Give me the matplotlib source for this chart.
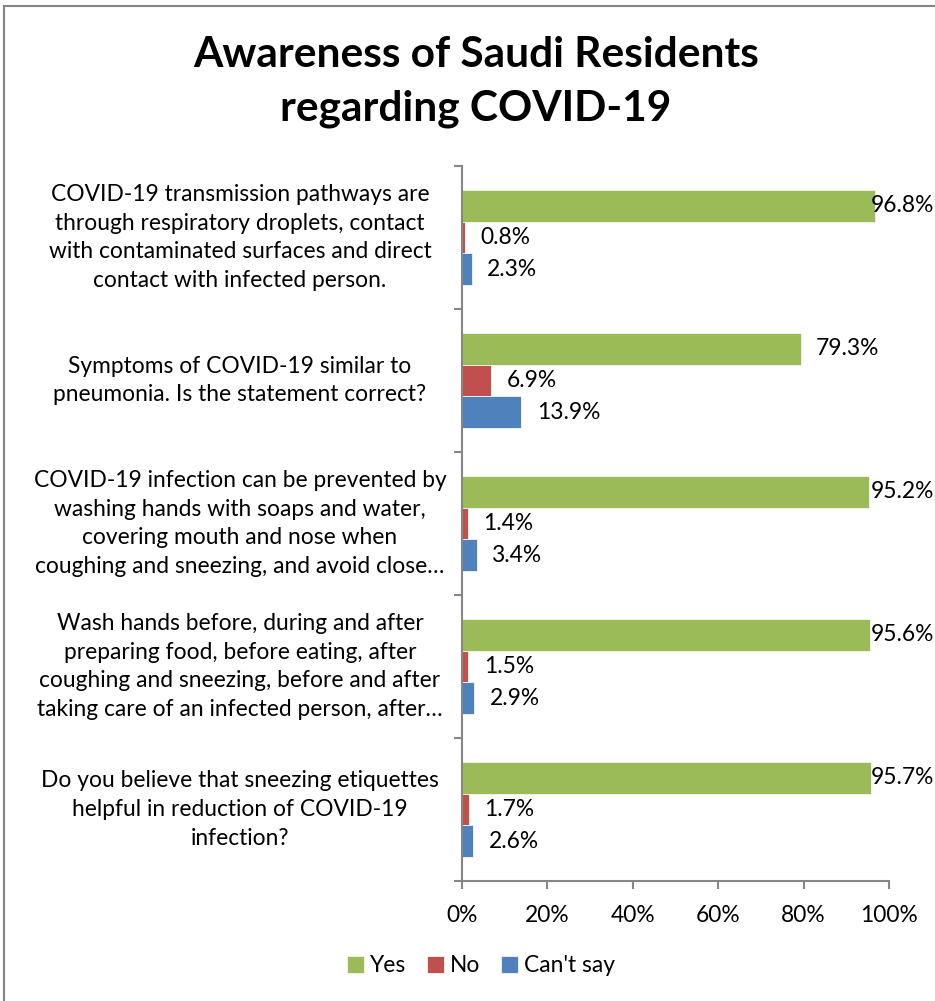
import matplotlib
matplotlib.use("Agg")
import matplotlib.pyplot as plt
import numpy as np
from matplotlib.ticker import PercentFormatter

categories = [
    "COVID-19 transmission pathways are\nthrough respiratory droplets, contact\nwith contaminated surfaces and direct\ncontact with infected person.",
    "Symptoms of COVID-19 similar to\npneumonia. Is the statement correct?",
    "COVID-19 infection can be prevented by\nwashing hands with soaps and water,\ncovering mouth and nose when\ncoughing and sneezing, and avoid close…",
    "Wash hands before, during and after\npreparing food, before eating, after\ncoughing and sneezing, before and after\ntaking care of an infected person, after…",
    "Do you believe that sneezing etiquettes\nhelpful in reduction of COVID-19\ninfection?",
]
yes = [96.8, 79.3, 95.2, 95.6, 95.7]
no = [0.8, 6.9, 1.4, 1.5, 1.7]
cant = [2.3, 13.9, 3.4, 2.9, 2.6]
series_names = ["Yes", "No", "Can't say"]
colors = ["#9BBB59", "#C0504D", "#4F81BD"]

plt.rcParams['font.family'] = ['Lato', 'DejaVu Sans']

W, H = 935, 1001
fig = plt.figure(figsize=(W / 100, H / 100), dpi=100)

# border
fig.add_artist(plt.Rectangle((4 / W, -0.01), 1.1, 1 - 6 / H + 0.01, transform=fig.transFigure,
                             fill=False, edgecolor="#868686", linewidth=1.5))

left, right = 462 / W, 889 / W
top, bottom = 1 - 166 / H, 1 - 881 / H
ax = fig.add_axes([left, bottom, right - left, top - bottom])

n = len(categories)
y = np.arange(n)
bh = 1 / 4.5
data = [yes, no, cant]
val_texts = []
for i, (vals, c, name) in enumerate(zip(data, colors, series_names)):
    pos = y + (i - 1) * bh
    ax.barh(pos, vals, height=bh, color=c, label=name, edgecolor="#f4f8ee", linewidth=0.6)
    for p, v in zip(pos, vals):
        t = ax.annotate(f"{v:.1f}%", (v, p), xytext=(11, 0), textcoords="offset points",
                        ha="left", va="center", fontsize=16.4)
        val_texts.append(t)

ax.set_xlim(0, 100)
ax.set_ylim(n - 0.5, -0.5)
ax.set_xticks(np.arange(0, 101, 20))
ax.xaxis.set_major_formatter(PercentFormatter(decimals=0))
ax.set_yticks(np.arange(-0.5, n, 1))
ax.set_yticklabels([])
for i, lab in enumerate(categories):
    ax.text(240 / W, i, lab, transform=matplotlib.transforms.blended_transform_factory(fig.transFigure, ax.transData),
            ha="center", va="center", fontsize=16.4, linespacing=1.45, color="black")

for s in ["top", "right"]:
    ax.spines[s].set_visible(False)
for s in ["left", "bottom"]:
    ax.spines[s].set_color("#868686")
    ax.spines[s].set_linewidth(1.5)
ax.tick_params(axis="x", length=6, width=1.5, color="#868686", labelsize=16.4, pad=11, direction="out")
ax.tick_params(axis="y", length=6, width=1.5, color="#868686", direction="out")

fig.text(476 / W, 1 - 82 / H, "Awareness of Saudi Residents\nregarding COVID-19", ha="center", va="center",
         fontsize=30.5, fontweight="bold", linespacing=1.5)

handles, labels = ax.get_legend_handles_labels()
fig.legend(handles, labels, loc="center", bbox_to_anchor=(481 / W, 1 - 966 / H), ncol=3, frameon=False,
           fontsize=16.4, handlelength=0.72, handleheight=0.72, handletextpad=0.25, columnspacing=0.95)

# keep value labels inside the figure, like the reference shifts them
fig.canvas.draw()
renderer = fig.canvas.get_renderer()
for t in val_texts:
    bb = t.get_window_extent(renderer)
    overflow = bb.x1 - (W - 0.5)
    if overflow > 0:
        ox, oy = t.xyann
        t.xyann = (ox - overflow * 72 / fig.dpi, oy)

fig.savefig("out.png", dpi=100)
